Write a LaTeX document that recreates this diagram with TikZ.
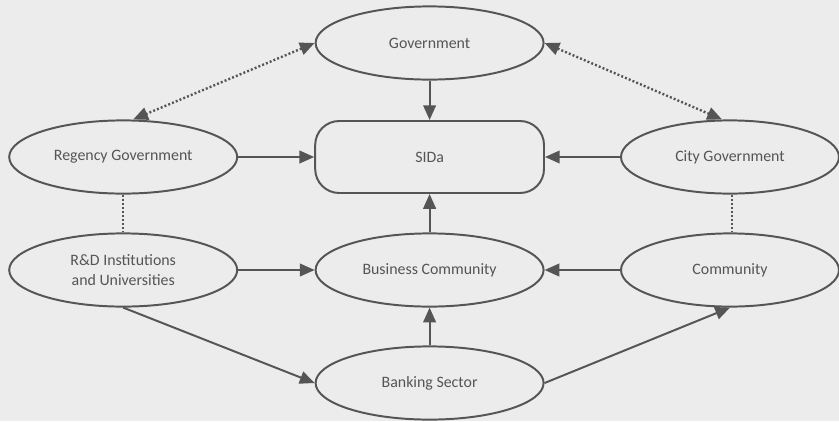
\documentclass[tikz,border=0pt]{standalone}
\usepackage{fontspec}
\setmainfont{Carlito}
\usetikzlibrary{shapes.geometric,arrows.meta}
\definecolor{fond}{RGB}{236,236,236}
\definecolor{trait}{RGB}{85,85,85}
\begin{document}
\begin{tikzpicture}[
  acteur/.style={draw=trait,ellipse,line width=1.4pt,minimum width=5.7cm,minimum height=1.83cm,text=trait,font=\fontsize{11.3}{13.6}\selectfont,align=center},
  fleche/.style={draw=trait,line width=1.4pt,-{Triangle[length=10.5pt,width=9pt]}},
  pointille/.style={draw=trait,line width=1.7pt,dash pattern=on 1.4pt off 1.5pt},
]
\fill[fond] (0,0) rectangle (20.975,-10.525);
\useasboundingbox (0,0) rectangle (20.975,-10.525);

\node[acteur] (0) at (10.74,-1.075) {Government};
\node[acteur] (1) at (3.08,-3.925) {Regency Government};
\node[draw=trait,rectangle,rounded corners=0.6cm,line width=1.4pt,minimum width=5.72cm,minimum height=1.8cm,text=trait,font=\fontsize{11.3}{13.6}\selectfont] (2) at (10.74,-3.925) {SIDa};
\node[acteur,minimum width=5.45cm] (3) at (18.25,-3.925) {City Government};

\node[acteur] (4) at (3.08,-6.75) {R\&D Institutions\\and Universities};
\node[acteur] (5) at (10.74,-6.75) {Business Community};
\node[acteur,minimum width=5.45cm] (6) at (18.25,-6.75) {Community};
\node[acteur] (7) at (10.74,-9.575) {Banking Sector};

\draw[fleche] (0)--(2);
\draw[fleche] (1)--(2);
\draw[fleche] (3)--(2);
\draw[fleche] (5)--(2);

\draw[fleche] (4)--(5);
\draw[fleche] (6)--(5);
\draw[fleche] (7)--(5);

\draw[fleche] (4.south)--(7.west);
\draw[fleche] (7.east)--(6.south);

\draw[pointille,{Triangle[length=10.5pt,width=9pt]}-{Triangle[length=10.5pt,width=9pt]}] (0.west)--([xshift=0.25cm]1.north);
\draw[pointille,{Triangle[length=10.5pt,width=9pt]}-{Triangle[length=10.5pt,width=9pt]}] (0.east)--([xshift=-0.2cm]3.north);
\draw[pointille] (1)--(4);
\draw[pointille] ([xshift=0.05cm]3.south)--([xshift=0.05cm]6.north);
\end{tikzpicture}
\end{document}
